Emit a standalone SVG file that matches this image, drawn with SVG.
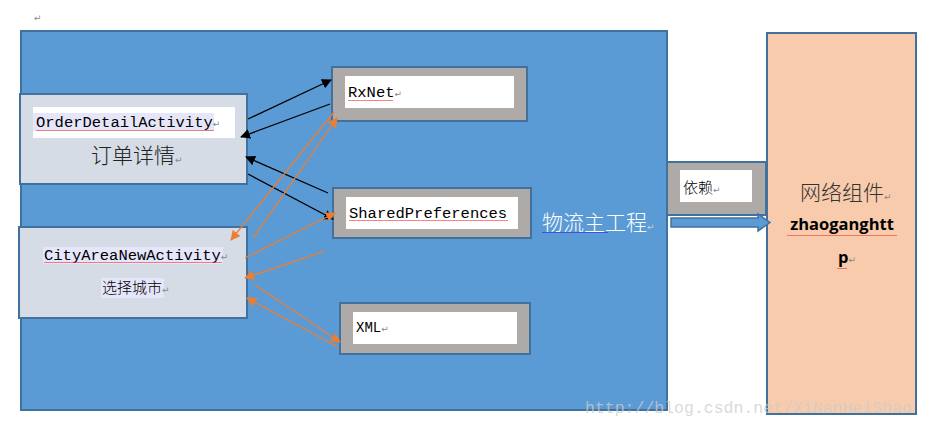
<svg xmlns="http://www.w3.org/2000/svg" width="926" height="425" viewBox="0 0 926 425">
<style>
.mono{font-family:"Liberation Mono","DejaVu Sans Mono",monospace;font-size:15.5px;fill:#000}
.cjk{font-family:"Noto Sans CJK SC","Noto Sans CJK JP",sans-serif;fill:#222;font-weight:300}
.ret{font-family:"DejaVu Sans",sans-serif;font-size:9px;fill:#888;font-weight:normal}
.frame{stroke:#41719c;stroke-width:2}
.gray{fill:#aeaaa8}
.lbl{fill:#fff}
.blk{stroke:#000;stroke-width:1.3;fill:none}
.org{stroke:#ed7d31;stroke-width:1.3;fill:none}
</style>
<defs>
<marker id="ab" viewBox="0 0 10 10" refX="9" refY="5" markerWidth="10" markerHeight="10" orient="auto" markerUnits="userSpaceOnUse"><path d="M0,0 L10,5 L0,10 Z" fill="#000"/></marker>
<marker id="ao" viewBox="0 0 10 10" refX="9" refY="5" markerWidth="10" markerHeight="10" orient="auto" markerUnits="userSpaceOnUse"><path d="M0,0 L10,5 L0,10 Z" fill="#ed7d31"/></marker>
<pattern id="wavy" width="4" height="3" patternUnits="userSpaceOnUse"><path d="M0,2 L1,1 L2,2 L3,1 L4,2" stroke="#e33" stroke-width="0.6" fill="none"/></pattern>
<pattern id="wavyb" width="4" height="3" patternUnits="userSpaceOnUse"><path d="M0,2 L1,1 L2,2 L3,1 L4,2" stroke="#22d" stroke-width="0.6" fill="none"/></pattern>
</defs>
<rect width="926" height="425" fill="#fff"/>
<text x="34" y="21" class="ret">↵</text>

<g id="main">
<rect x="21" y="31" width="646" height="379" fill="#5b9bd5" class="frame"/>
<text x="542" y="230" class="cjk" style="font-size:21px;fill:#fff">物流主工程<tspan class="ret" style="fill:#ccc">↵</tspan></text>
<rect x="542" y="231" width="66" height="3" fill="url(#wavyb)"/>
</g>

<g id="network">
<rect x="767" y="33" width="149" height="381" fill="#f8cbad" class="frame"/>
<text x="800" y="200" class="cjk" style="font-size:21px;fill:#333">网络组件<tspan class="ret">↵</tspan></text>
<text x="842" y="230" text-anchor="middle" style="font-family:'Open Sans','Liberation Sans',sans-serif;font-weight:bold;font-size:16.5px;fill:#000">zhaoganghtt</text>
<rect x="787" y="233" width="110" height="3" fill="url(#wavy)"/>
<text x="838" y="263" style="font-family:'Open Sans','Liberation Sans',sans-serif;font-weight:bold;font-size:16.5px;fill:#000">p<tspan class="ret">↵</tspan></text>
<rect x="837" y="266" width="10" height="3" fill="url(#wavy)"/>
</g>

<g id="orderDetail">
<rect x="20" y="94" width="227" height="90" fill="#d6dce5" class="frame"/>
<rect x="33" y="107" width="202" height="31" fill="#fff"/>
<rect x="33" y="113" width="181" height="18" fill="#e6e6fa"/>
<text x="36" y="127" class="mono">OrderDetailActivity<tspan class="ret">↵</tspan></text>
<rect x="36" y="129" width="178" height="3" fill="url(#wavy)"/>
<text x="91" y="163" class="cjk" style="font-size:21px">订单详情<tspan class="ret">↵</tspan></text>
</g>

<g id="cityArea">
<rect x="19" y="227" width="228" height="91" fill="#d6dce5" class="frame"/>
<rect x="43" y="247" width="180" height="17" fill="#e6e6fa"/>
<text x="44" y="260" class="mono">CityAreaNewActivity<tspan class="ret">↵</tspan></text>
<rect x="44" y="262" width="178" height="3" fill="url(#wavy)"/>
<rect x="101" y="278" width="63" height="20" fill="#e6e6fa"/>
<text x="102" y="293" class="cjk" style="font-size:15px;fill:#000">选择城市<tspan class="ret">↵</tspan></text>
</g>

<g id="rxnet">
<rect x="332" y="67" width="195" height="54" class="gray frame"/>
<rect x="345" y="76" width="169" height="32" class="lbl"/>
<text x="348" y="97" class="mono">RxNet<tspan class="ret">↵</tspan></text>
<rect x="348" y="98" width="45" height="3" fill="url(#wavy)"/>
</g>

<g id="sharedPrefs">
<rect x="333" y="188" width="198" height="50" class="gray frame"/>
<rect x="346" y="197" width="172" height="32" class="lbl"/>
<text x="349" y="218" class="mono">SharedPreferences</text>
<rect x="349" y="219" width="159" height="3" fill="url(#wavy)"/>
</g>

<g id="xml">
<rect x="340" y="303" width="190" height="51" class="gray frame"/>
<rect x="353" y="312" width="164" height="32" class="lbl"/>
<text x="356" y="332" class="mono" style="font-size:14px">XML<tspan class="ret">↵</tspan></text>
</g>

<g id="depend">
<rect x="667" y="162" width="99" height="53" class="gray frame"/>
<rect x="680" y="170" width="72" height="32" class="lbl"/>
<text x="683" y="193" class="cjk" style="font-size:15px;fill:#000">依赖<tspan class="ret">↵</tspan></text>
</g>

<g id="connectors">
<polygon points="671,218 758,218 758,214 770,222.5 758,231 758,227 671,227" fill="#5b9bd5" stroke="#41719c" stroke-width="1.5"/>
<line x1="248" y1="119" x2="331" y2="80" class="blk" marker-end="url(#ab)"/>
<line x1="330" y1="104" x2="241" y2="137" class="blk" marker-end="url(#ab)"/>
<line x1="328" y1="193" x2="246" y2="157" class="blk" marker-end="url(#ab)"/>
<line x1="248" y1="174" x2="333" y2="219" class="blk" marker-end="url(#ab)"/>
<line x1="334" y1="112" x2="231" y2="240" class="org" marker-end="url(#ao)"/>
<line x1="253" y1="238" x2="337" y2="118" class="org" marker-end="url(#ao)"/>
<line x1="245" y1="258" x2="335" y2="213" class="org" marker-end="url(#ao)"/>
<line x1="325" y1="251" x2="245" y2="278" class="org" marker-end="url(#ao)"/>
<line x1="255" y1="285" x2="340" y2="342" class="org" marker-end="url(#ao)"/>
<line x1="338" y1="347" x2="247" y2="298" class="org" marker-end="url(#ao)"/>
</g>

<text x="585" y="413" style="font-family:'Liberation Mono',monospace;font-size:16.5px;fill:#ccc;fill-opacity:0.75">http://blog.csdn.net/XiNanHeiShao</text>
</svg>
